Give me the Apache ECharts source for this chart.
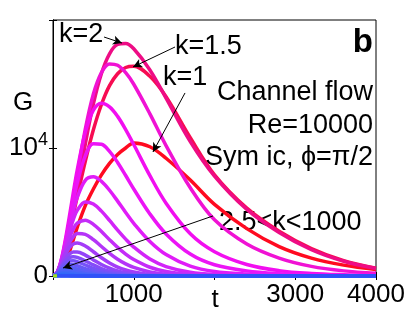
<!DOCTYPE html>
<html>
<head>
<meta charset="utf-8">
<script src="https://cdn.jsdelivr.net/npm/echarts@6/dist/echarts.min.js"></script>
<style>
html,body{margin:0;padding:0;background:#fff;}
#c{width:415px;height:311px;}
</style>
</head>
<body>
<div id="c"></div>
<script>
// time grid (t)
var T = [0,50,100,150,200,250,300,400,500,600,700,800,900,1000,1200,1400,1700,2000,2400,2800,3200,3600,4000];
// transient growth G(t) for each wavenumber k
var G_k1   = [0,80,350,900,1800,2800,3800,5500,6800,7900,8800,9500,10000,10400,10100,9200,7500,5600,3700,2300,1400,850,500];
var G_k1_5 = [0,290,1040,2110,3390,4770,6190,8960,11420,13400,14870,15800,16290,16390,15600,14000,10800,7900,5300,3500,2150,1200,600];
var G_k2   = [0,160,775,1840,3270,4930,6730,10300,13440,15820,17360,18090,18160,17750,16100,13900,10500,7800,5200,3400,2050,1150,580];
var G_k2_5 = [0,210,1010,2330,4030,5940,7890,11470,14220,15900,16570,16460,15880,14980,12670,10190,6890,4390,2500,1400,750,400,220];
var G_c5  = [0,265,1215,2725,4545,6460,8280,11220,12960,13500,13210,12470,11440,10270,7840,5690,3300,1900,900,420,200,100,50];
var G_c6  = [0,262,1180,2570,4190,5810,7270,9390,10330,10290,9730,8870,7850,6800,4850,3290,1715,880,400,180,80,40,20];
var G_c7  = [0,256,1117,2370,3746,5047,6135,7475,7750,7390,6700,5850,4960,4120,2700,1680,770,350,150,70,35,18,10];
var G_c8  = [0,261,1092,2230,3392,4391,5135,5790,5620,5067,4340,3588,2880,2262,1323,737,286,110,50,25,12,6,3];
var G_c9  = [0,247,1001,1976,2910,3645,4124,4360,4035,3472,2838,2236,1712,1283,684,347,117,60,30,15,8,4,2];
var G_c10 = [0,244,950,1800,2542,3054,3314,3257,2840,2303,1770,1314,947,668,316,142,60,30,15,8,4,2,1];
var G_c11 = [0,247,911,1639,2195,2504,2580,2341,1893,1422,1015,698,467,305,124,60,30,15,8,4,2,1,1];
var G_c12 = [0,212,757,1317,1707,1884,1883,1631,1257,900,613,402,257,160,70,35,18,9,5,3,2,1,1];
var G_c13 = [0,198,680,1137,1416,1500,1453,1187,864,583,375,232,140,82,40,20,10,5,3,2,1,1,1];
var G_c14 = [0,187,614,983,1172,1192,1120,859,587,372,225,131,74,41,15,8,4,2,1,1,1,1,1];
var G_c15 = [0,169,528,802,908,884,800,569,361,213,119,64,34,18,6,3,1,1,1,1,1,1,1];
var G_c16 = [0,153,447,638,679,631,546,355,206,111,57,28,14,7,2,1,1,1,1,1,1,1,1];
var G_c17 = [0,123,334,442,439,386,316,184,95,46,21,9,4,2,1,1,1,1,1,1,1,1,1];
var G_c18 = [0,95,234,280,258,211,161,81,37,15,6,2,1,1,1,1,1,1,1,1,1,1,1];
var G_c19 = [0,64,139,147,124,92,64,27,10,4,1,0,0,0,0,0,0,0,0,0,0,0,0];
var G_c20 = [0,38,69,63,47,31,19,6,2,0,0,0,0,0,0,0,0,0,0,0,0,0,0];
var G_c21 = [0,25,28,20,12,7,4,1,0,0,0,0,0,0,0,0,0,0,0,0,0,0,0];
var G_c22 = [0,11,9,5,2,1,0,0,0,0,0,0,0,0,0,0,0,0,0,0,0,0,0];
var G_c23 = [0,3,2,1,0,0,0,0,0,0,0,0,0,0,0,0,0,0,0,0,0,0,0];
var G_c24 = [0,0,'-','-','-','-','-','-','-','-','-','-','-','-','-','-','-','-','-','-','-','-','-'];

var curves = [G_k1,G_k1_5,G_k2,G_k2_5,G_c5,G_c6,G_c7,G_c8,G_c9,G_c10,G_c11,G_c12,G_c13,G_c14,G_c15,G_c16,G_c17,G_c18,G_c19,G_c20,G_c21,G_c22,G_c23,G_c24];
var curveNames = ['k=1','k=1.5','k=2','k=2.5','c5','c6','c7','c8','c9','c10','c11','c12','c13','c14','c15','c16','c17','c18','c19','c20','c21','c22','c23','c24'];
var curveColors = ['#ff0a20','#f70c52','#ee0c85','#f012d4','#f20ef0','#ec14f6','#e01cf8','#d224f8','#c42cf8','#b434f8','#a43cf8','#9444f8','#854cf8','#7652f8','#6858f8','#5a5ef8','#4c62f8','#4066f8','#3668f8','#2c6af8','#2a60f8','#2a58f8','#3050f8','#a0e020'];

// x tick labels and y tick labels
var xTickLabels = {1000:'1000',3000:'3000',4000:'4000'};
var yTickLabels = {0:'0',10000:'{b|10}{s|4}'};
var xTitle = 't', yTitle = 'G';

var FONT = 'Liberation Sans';
var chart = echarts.init(document.getElementById('c'), null, {renderer:'canvas'});

var series = curves.map(function(vals, i){
  return {
    type:'line', name:curveNames[i], showSymbol:false, smooth:0.35,
    lineStyle:{width:3.5, color:curveColors[i]}, itemStyle:{color:curveColors[i]},
    data: T.map(function(t,j){return [t, vals[j]];}),
    animation:false, silent:true, z: 2
  };
});

// arrows (annotation), anchored in data coordinates
series.push({
  type:'line', data:[], silent:true, animation:false, z:5,
  markLine:{
    silent:true, animation:false, symbol:['none','arrow'], symbolSize:[7,9],
    label:{show:false},
    lineStyle:{color:'#000', width:1, type:'solid'},
    data:[
      [{coord:[632,18670]},{coord:[854,18200]}],
      [{coord:[1511,17890]},{coord:[991,16330]}],
      [{coord:[1635,14300]},{coord:[1238,9690]}],
      [{coord:[1981,4690]},{coord:[124,625]}]
    ]
  }
});

var axisCommon = {
  axisLine:{show:true, lineStyle:{color:'#000', width:1}},
  axisTick:{show:true, inside:true, length:4, lineStyle:{color:'#000'}},
  splitLine:{show:false}
};

var option = {
  backgroundColor:'#fff',
  grid:{left:53, right:39, top:20, bottom:35, show:true, borderColor:'#000', borderWidth:1, containLabel:false, outerBoundsMode:'none'},
  xAxis:[
    Object.assign({type:'value', min:0, max:4000, interval:1000, position:'bottom',
      axisLabel:{show:true, margin:6, fontSize:26, color:'#000', fontFamily:FONT, showMinLabel:true, showMaxLabel:true,
        formatter:function(v){return xTickLabels[v]||'';}}
    }, axisCommon),
    Object.assign({type:'value', min:0, max:4000, interval:1000, position:'top', axisLabel:{show:false}}, axisCommon)
  ],
  yAxis:[
    Object.assign({type:'value', min:0, max:20000, interval:10000, position:'left',
      axisLabel:{show:true, margin:5, color:'#000', fontFamily:FONT, fontSize:26,
        formatter:function(v){return yTickLabels[v]||'';},
        rich:{b:{fontSize:26, fontFamily:FONT, color:'#000'}, s:{fontSize:18, fontFamily:FONT, color:'#000', padding:[0,0,16,0]}}}
    }, axisCommon),
    Object.assign({type:'value', min:0, max:20000, interval:10000, position:'right', axisLabel:{show:false}}, axisCommon)
  ],
  series: series,
  graphic:[
    {type:'text', x:23, y:103, style:{text:yTitle, font:'26px '+FONT, fill:'#000', textAlign:'center', textVerticalAlign:'middle'}},
    {type:'text', x:215, y:300, style:{text:xTitle, font:'26px '+FONT, fill:'#000', textAlign:'center', textVerticalAlign:'middle'}},
    {type:'text', x:373, y:43, style:{text:'b', font:'bold 33px '+FONT, fill:'#000', textAlign:'right', textVerticalAlign:'middle'}},
    {type:'text', x:373, y:93, style:{text:'Channel flow', font:'27px '+FONT, fill:'#000', textAlign:'right', textVerticalAlign:'middle'}},
    {type:'text', x:373, y:126, style:{text:'Re=10000', font:'27px '+FONT, fill:'#000', textAlign:'right', textVerticalAlign:'middle'}},
    {type:'text', x:373, y:158, style:{text:'Sym ic, \u03D5=\u03C0/2', font:'27px '+FONT, fill:'#000', textAlign:'right', textVerticalAlign:'middle'}},
    {type:'text', x:219, y:223, style:{text:'2.5<k<1000', font:'27px '+FONT, fill:'#000', textAlign:'left', textVerticalAlign:'middle'}},
    {type:'text', x:59, y:35, style:{text:'k=2', font:'27px '+FONT, fill:'#000', textAlign:'left', textVerticalAlign:'middle'}},
    {type:'text', x:175, y:47, style:{text:'k=1.5', font:'27px '+FONT, fill:'#000', textAlign:'left', textVerticalAlign:'middle'}},
    {type:'text', x:163, y:78, style:{text:'k=1', font:'27px '+FONT, fill:'#000', textAlign:'left', textVerticalAlign:'middle'}}
  ]
};
chart.setOption(option);
</script>
</body>
</html>
